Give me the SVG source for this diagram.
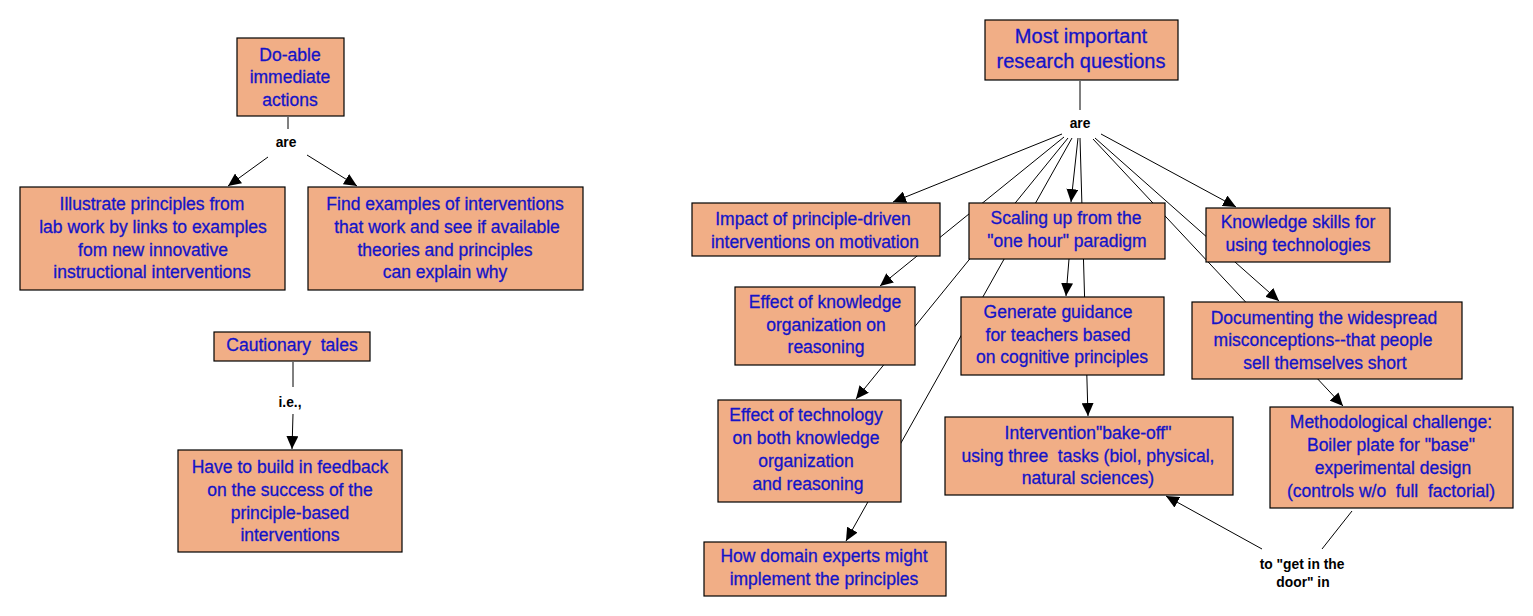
<svg xmlns="http://www.w3.org/2000/svg" width="1533" height="616" viewBox="0 0 1533 616">
<style>
.box{fill:#f1ae86;stroke:#000;stroke-width:1.2}
.t{font-family:"Liberation Sans",Arial,sans-serif;font-size:17.5px;fill:#1414c8;stroke:#1414c8;stroke-width:0.3;text-anchor:middle}
.big{font-size:20px}
.lbl{font-family:"Liberation Sans",Arial,sans-serif;font-size:13.8px;font-weight:bold;fill:#000;text-anchor:middle}
.ln{stroke:#000;stroke-width:1;fill:none}
.ar{marker-end:url(#ah)}
</style>
<defs>
<marker id="ah" markerUnits="userSpaceOnUse" markerWidth="14" markerHeight="12" refX="13" refY="6" orient="auto">
<path d="M0,0 L13,6 L0,12 z" fill="#000"/>
</marker>
</defs>
<rect width="1533" height="616" fill="#fff"/>
<g id="connectors">
<line class="ln" x1="288" y1="117" x2="288" y2="129"/>
<line class="ln ar" x1="268" y1="157" x2="228" y2="186"/>
<line class="ln ar" x1="307" y1="155" x2="357" y2="186"/>
<line class="ln" x1="293" y1="362" x2="293" y2="387"/>
<line class="ln ar" x1="293" y1="414" x2="292" y2="449"/>
<line class="ln" x1="1080" y1="81" x2="1080" y2="110"/>
<line class="ln ar" x1="1062" y1="134" x2="893" y2="202"/>
<line class="ln ar" x1="1064" y1="137" x2="880" y2="286"/>
<line class="ln ar" x1="1068" y1="138" x2="856" y2="399"/>
<line class="ln ar" x1="1072" y1="138" x2="846" y2="541"/>
<line class="ln ar" x1="1078" y1="138" x2="1071" y2="202"/>
<line class="ln ar" x1="1080" y1="138" x2="1088" y2="416"/>
<line class="ln ar" x1="1069" y1="259" x2="1066" y2="296"/>
<line class="ln ar" x1="1101" y1="134" x2="1236" y2="207"/>
<line class="ln ar" x1="1095" y1="138" x2="1279" y2="301"/>
<line class="ln ar" x1="1093" y1="139" x2="1343" y2="406"/>
<line class="ln" x1="1352" y1="511" x2="1322" y2="549"/>
<line class="ln ar" x1="1262" y1="549" x2="1166" y2="496"/>
</g>
<g id="label-are-left"><text class="lbl" x="286" y="147">are</text></g>
<g id="label-ie"><text class="lbl" x="290" y="407">i.e.,</text></g>
<g id="label-are-right"><text class="lbl" x="1080" y="128">are</text></g>
<g id="label-door"><text class="lbl" x="1302" y="569">to "get in the</text><text class="lbl" x="1303" y="587">door" in</text></g>

<g id="n-doable"><rect class="box" x="237" y="38" width="107" height="78"/>
<text class="t" x="290" y="61">Do-able</text><text class="t" x="290" y="83">immediate</text><text class="t" x="290" y="106">actions</text></g>
<g id="n-illustrate"><rect class="box" x="20" y="187" width="265" height="103"/>
<text class="t" x="152" y="210">Illustrate principles from</text><text class="t" x="153" y="233">lab work by links to examples</text><text class="t" x="153" y="256">fom new innovative</text><text class="t" x="152" y="278">instructional interventions</text></g>
<g id="n-find"><rect class="box" x="308" y="187" width="275" height="103"/>
<text class="t" x="445" y="210">Find examples of interventions</text><text class="t" x="447" y="233">that work and see if available</text><text class="t" x="445" y="256">theories and principles</text><text class="t" x="445" y="278">can explain why</text></g>
<g id="n-cautionary"><rect class="box" x="214" y="332" width="156" height="29"/>
<text class="t" x="292" y="351" xml:space="preserve">Cautionary  tales</text></g>
<g id="n-feedback"><rect class="box" x="178" y="450" width="224" height="102"/>
<text class="t" x="290" y="473">Have to build in feedback</text><text class="t" x="290" y="496">on the success of the</text><text class="t" x="290" y="519">principle-based</text><text class="t" x="290" y="541">interventions</text></g>

<g id="n-most"><rect class="box" x="985" y="20" width="193" height="60"/>
<text class="t big" x="1081" y="43">Most important</text><text class="t big" x="1081" y="68">research questions</text></g>
<g id="n-impact"><rect class="box" x="692" y="203" width="248" height="53"/>
<text class="t" x="813" y="225">Impact of principle-driven</text><text class="t" x="815" y="248">interventions on motivation</text></g>
<g id="n-scaling"><rect class="box" x="969" y="203" width="196" height="56"/>
<text class="t" x="1066" y="224">Scaling up from the</text><text class="t" x="1067" y="247">"one hour" paradigm</text></g>
<g id="n-knowledge"><rect class="box" x="1206" y="208" width="184" height="54"/>
<text class="t" x="1298" y="228">Knowledge skills for</text><text class="t" x="1298" y="251">using technologies</text></g>
<g id="n-effect-knowledge"><rect class="box" x="735" y="287" width="180" height="78"/>
<text class="t" x="825" y="308">Effect of knowledge</text><text class="t" x="826" y="331">organization on</text><text class="t" x="826" y="353">reasoning</text></g>
<g id="n-generate"><rect class="box" x="961" y="297" width="203" height="78"/>
<text class="t" x="1058" y="318">Generate guidance</text><text class="t" x="1058" y="341">for teachers based</text><text class="t" x="1062" y="363">on cognitive principles</text></g>
<g id="n-documenting"><rect class="box" x="1192" y="302" width="270" height="77"/>
<text class="t" x="1324" y="324">Documenting the widespread</text><text class="t" x="1323" y="346">misconceptions--that people</text><text class="t" x="1325" y="369">sell themselves short</text></g>
<g id="n-effect-tech"><rect class="box" x="718" y="400" width="183" height="102"/>
<text class="t" x="806" y="421">Effect of technology</text><text class="t" x="806" y="444">on both knowledge</text><text class="t" x="806" y="467">organization</text><text class="t" x="808" y="490">and reasoning</text></g>
<g id="n-intervention"><rect class="box" x="945" y="417" width="288" height="78"/>
<text class="t" x="1088" y="439">Intervention"bake-off"</text><text class="t" x="1088" y="462" xml:space="preserve">using three  tasks (biol, physical,</text><text class="t" x="1088" y="484">natural sciences)</text></g>
<g id="n-method"><rect class="box" x="1270" y="407" width="243" height="101"/>
<text class="t" x="1391" y="428">Methodological challenge:</text><text class="t" x="1391" y="451">Boiler plate for "base"</text><text class="t" x="1393" y="474">experimental design</text><text class="t" x="1391" y="497" xml:space="preserve">(controls w/o  full  factorial)</text></g>
<g id="n-domain"><rect class="box" x="704" y="542" width="242" height="54"/>
<text class="t" x="824" y="562">How domain experts might</text><text class="t" x="824" y="585">implement the principles</text></g>
</svg>
